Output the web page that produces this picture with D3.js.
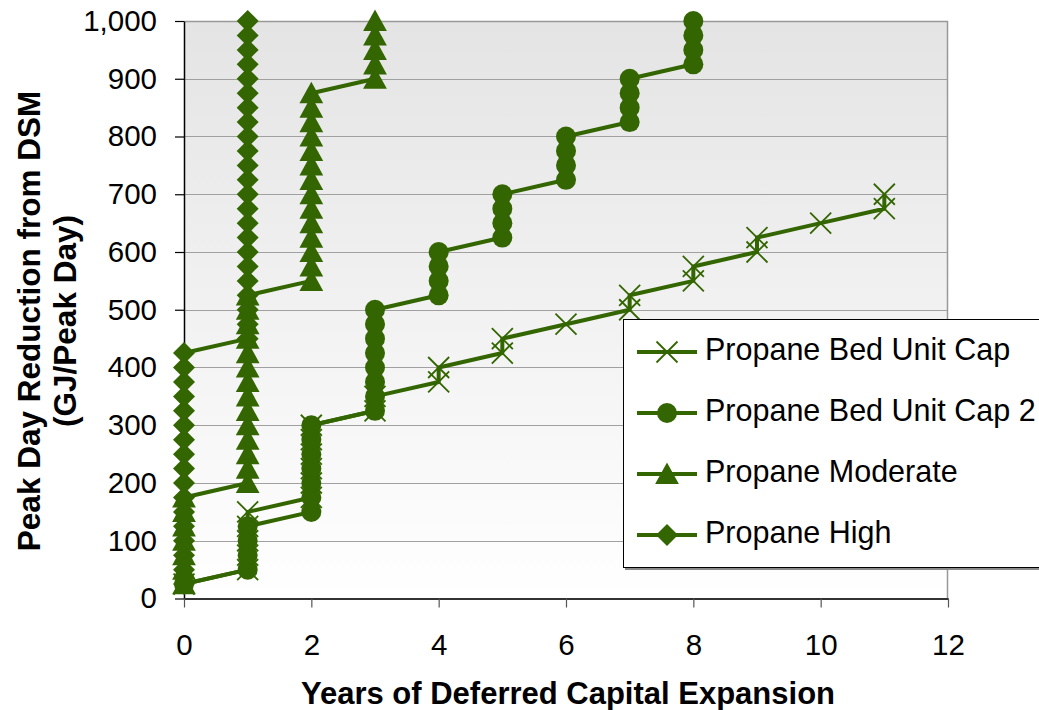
<!DOCTYPE html>
<html>
<head>
<meta charset="utf-8">
<script src="https://cdn.jsdelivr.net/npm/d3@7"></script>
<style>
  html, body { margin: 0; padding: 0; background: #ffffff; }
  svg { display: block; font-family: Arial, "Liberation Sans", sans-serif; }
</style>
</head>
<body>
<svg id="chart" width="1039" height="710"></svg>
<script>
// Peak day reduction levels (GJ/Peak Day), shared by every scenario
const reductionLevels = [25, 50, 75, 100, 125, 150, 175, 200, 225, 250,
  275, 300, 325, 350, 375, 400, 425, 450, 475, 500,
  525, 550, 575, 600, 625, 650, 675, 700, 725, 750,
  775, 800, 825, 850, 875, 900, 925, 950, 975, 1000];

// Years of deferred capital expansion reached at each reduction level
const bedUnitCapYears = [0, 1, 1, 1, 1, 1, 2, 2, 2, 2, 2, 2, 3, 3, 4, 4, 5, 5, 6, 7, 7, 8, 8, 9, 9, 10, 11, 11];
const bedUnitCap2Years = [0, 1, 1, 1, 1, 2, 2, 2, 2, 2, 2, 2, 3, 3, 3, 3, 3, 3, 3, 3,
  4, 4, 4, 4, 5, 5, 5, 5, 6, 6, 6, 6, 7, 7, 7, 7, 8, 8, 8, 8];
const moderateYears = [0, 0, 0, 0, 0, 0, 0, 1, 1, 1, 1, 1, 1, 1, 1, 1, 1, 1, 1, 1,
  1, 2, 2, 2, 2, 2, 2, 2, 2, 2, 2, 2, 2, 2, 2, 3, 3, 3, 3, 3];
const highYears = [0, 0, 0, 0, 0, 0, 0, 0, 0, 0, 0, 0, 0, 0, 0, 0, 0, 1, 1, 1,
  1, 1, 1, 1, 1, 1, 1, 1, 1, 1, 1, 1, 1, 1, 1, 1, 1, 1, 1, 1];

const seriesNames = ["Propane Bed Unit Cap", "Propane Bed Unit Cap 2", "Propane Moderate", "Propane High"];
const seriesYears = [bedUnitCapYears, bedUnitCap2Years, moderateYears, highYears];
const seriesMarkers = ["cross", "circle", "triangle", "diamond"];

const xTicks = [0, 2, 4, 6, 8, 10, 12];
const yTicks = [0, 100, 200, 300, 400, 500, 600, 700, 800, 900, 1000];

const green = "#336600";
const svg = d3.select("#chart");

const plotLeft = 184, plotRight = 948, plotTop = 21, plotBottom = 598.5;
const x = d3.scaleLinear().domain([0, 12]).range([plotLeft, plotRight]);
const y = d3.scaleLinear().domain([0, 1000]).range([plotBottom, plotTop]);

// Plot area background: soft grey fading to white towards the bottom
const defs = svg.append("defs");
const grad = defs.append("linearGradient").attr("id", "plotBg")
  .attr("x1", 0).attr("y1", 0).attr("x2", 0).attr("y2", 1);
grad.append("stop").attr("offset", "0%").attr("stop-color", "#e4e4e4");
grad.append("stop").attr("offset", "100%").attr("stop-color", "#ffffff");

svg.append("rect")
  .attr("x", plotLeft).attr("y", plotTop)
  .attr("width", plotRight - plotLeft).attr("height", plotBottom - plotTop)
  .attr("fill", "url(#plotBg)");

// Horizontal gridlines
svg.append("g").selectAll("line")
  .data(yTicks.filter(v => v > 0 && v < 1000))
  .join("line")
  .attr("x1", plotLeft).attr("x2", plotRight)
  .attr("y1", d => Math.round(y(d)) + 0.5).attr("y2", d => Math.round(y(d)) + 0.5)
  .attr("stroke", "#a0a0a0").attr("stroke-width", 1);

// Plot border (top and right)
svg.append("path")
  .attr("d", `M${plotLeft},${plotTop + 0.5}H${plotRight - 0.5}V${plotBottom}`)
  .attr("fill", "none").attr("stroke", "#999999").attr("stroke-width", 1.5);

// Axes
const yAxis = svg.append("g")
  .attr("transform", `translate(${plotLeft},0)`)
  .call(d3.axisLeft(y).tickValues(yTicks).tickFormat(d3.format(",")).tickSize(9).tickPadding(18).tickSizeOuter(0));
yAxis.select(".domain").attr("stroke", "#000").attr("stroke-width", 1.5);
yAxis.selectAll(".tick line").attr("stroke", "#000").attr("stroke-width", 1.2);
yAxis.selectAll(".tick text")
  .attr("font-size", 29.5).attr("fill", "#000")
  .attr("font-family", "Arial, 'Liberation Sans', sans-serif");

const xAxis = svg.append("g")
  .attr("transform", `translate(0,${plotBottom})`)
  .call(d3.axisBottom(x).tickValues(xTicks).tickFormat(d3.format("d")).tickSize(9).tickPadding(27).tickSizeOuter(0));
xAxis.select(".domain").attr("stroke", "#333").attr("stroke-width", 2);
xAxis.selectAll(".tick line").attr("stroke", "#555").attr("stroke-width", 1.2);
xAxis.selectAll(".tick text")
  .attr("font-size", 29.5).attr("fill", "#000")
  .attr("font-family", "Arial, 'Liberation Sans', sans-serif");

// Marker shapes
function markerPath(type, s) {
  switch (type) {
    case "cross":
      return `M${-s},${-s}L${s},${s}M${-s},${s}L${s},${-s}`;
    case "circle":
      return `M${-s},0A${s},${s} 0 1,0 ${s},0A${s},${s} 0 1,0 ${-s},0Z`;
    case "triangle":
      return `M0,${-s * 1.05}L${s * 1.08},${s * 0.92}L${-s * 1.08},${s * 0.92}Z`;
    case "diamond":
      return `M0,${-s}L${s},0L0,${s}L${-s},0Z`;
  }
}
function drawMarker(sel, type) {
  if (type === "cross") {
    sel.attr("d", markerPath("cross", 10.5)).attr("fill", "none")
      .attr("stroke", green).attr("stroke-width", 1.8);
  } else {
    const s = type === "circle" ? 10 : 11;
    sel.attr("d", markerPath(type, s)).attr("fill", green).attr("stroke", "none");
  }
}

const line = d3.line().x(d => x(d[0])).y(d => y(d[1]));

seriesYears.forEach((years, i) => {
  const pts = years.map((yr, k) => [yr, reductionLevels[k]]);
  const g = svg.append("g");
  g.append("path").datum(pts)
    .attr("d", line)
    .attr("fill", "none").attr("stroke", green)
    .attr("stroke-width", 4).attr("stroke-linejoin", "round");
  g.selectAll("path.mk").data(pts).join("path")
    .attr("class", "mk")
    .attr("transform", d => `translate(${x(d[0])},${y(d[1])})`)
    .call(drawMarker, seriesMarkers[i]);
});

// Axis titles
svg.append("text")
  .attr("x", (plotLeft + plotRight) / 2 + 2).attr("y", 704)
  .attr("text-anchor", "middle")
  .attr("font-size", 31).attr("font-weight", "bold").attr("fill", "#000")
  .text("Years of Deferred Capital Expansion");

const yTitle = svg.append("text")
  .attr("transform", "translate(0,321) rotate(-90)")
  .attr("text-anchor", "middle")
  .attr("font-size", 31.5).attr("font-weight", "bold").attr("fill", "#000");
yTitle.append("tspan").attr("x", 0).attr("y", 40).text("Peak Day Reduction from DSM");
yTitle.append("tspan").attr("x", 0).attr("y", 76).text("(GJ/Peak Day)");

// Legend
const legend = svg.append("g");
legend.append("rect")
  .attr("x", 625).attr("y", 321).attr("width", 430).attr("height", 249)
  .attr("fill", "#8a8a8a");
legend.append("rect")
  .attr("x", 623.5).attr("y", 319.5).attr("width", 430).attr("height", 248)
  .attr("fill", "#ffffff").attr("stroke", "#000").attr("stroke-width", 1);

const rowY = [352, 413, 474, 535];
seriesNames.forEach((name, i) => {
  const ry = rowY[i];
  legend.append("line")
    .attr("x1", 637).attr("x2", 697).attr("y1", ry).attr("y2", ry)
    .attr("stroke", green).attr("stroke-width", 4);
  legend.append("path")
    .attr("transform", `translate(667,${ry})`)
    .call(drawMarker, seriesMarkers[i]);
  legend.append("text")
    .attr("x", 705).attr("y", ry + 8)
    .attr("font-size", 30.5).attr("fill", "#000")
    .text(name);
});
</script>
</body>
</html>
